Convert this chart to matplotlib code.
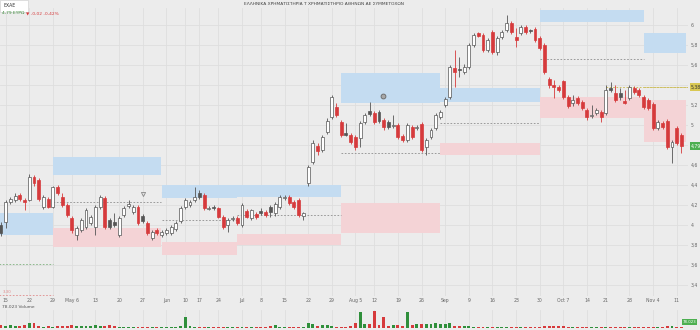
import matplotlib
matplotlib.use("Agg")
import matplotlib.pyplot as plt
import numpy as np

# Ημερήσια κεριά (OHLC), ΕΧΑΕ
opens = [4.00, 4.03, 4.23, 4.25, 4.30, 4.25, 4.25, 4.48, 4.45, 4.18, 4.26, 4.18, 4.38, 4.28, 4.20,
         4.07, 3.90, 3.95, 3.98, 4.02, 3.98, 4.18, 4.27, 4.05, 4.03, 3.90, 4.10, 4.19, 4.13, 4.18,
         4.09, 4.02, 3.87, 3.95, 3.90, 3.92, 3.92, 3.96, 4.04, 4.18, 4.20, 4.25, 4.32, 4.30, 4.16,
         4.18, 4.17, 4.08, 4.00, 4.06, 4.07, 4.00, 4.14, 4.07, 4.11, 4.14, 4.13, 4.18, 4.12, 4.18,
         4.27, 4.28, 4.23, 4.25, 4.09, 4.42, 4.63, 4.79, 4.75, 4.93, 5.08, 5.18, 5.03, 4.92, 4.90,
         4.88, 4.87, 5.03, 5.14, 5.12, 5.13, 5.05, 5.03, 4.99, 5.00, 4.89, 4.85, 4.98, 4.97, 5.01,
         4.78, 4.88, 4.97, 5.08, 5.20, 5.28, 5.57, 5.56, 5.53, 5.58, 5.80, 5.92, 5.90, 5.75, 5.93,
         5.73, 5.88, 5.95, 6.02, 5.88, 5.92, 5.98, 5.95, 5.96, 5.87, 5.80, 5.46, 5.40, 5.38, 5.44,
         5.28, 5.22, 5.27, 5.23, 5.15, 5.09, 5.12, 5.13, 5.12, 5.37, 5.32, 5.32, 5.24, 5.27, 5.37,
         5.35, 5.28, 5.25, 5.21, 4.97, 5.02, 5.04, 4.78, 4.97, 4.90]
highs = [4.03, 4.25, 4.28, 4.32, 4.32, 4.27, 4.51, 4.50, 4.47, 4.30, 4.28, 4.39, 4.40, 4.32, 4.22,
         4.09, 3.99, 4.07, 4.17, 4.10, 4.20, 4.30, 4.29, 4.07, 4.12, 4.09, 4.19, 4.25, 4.20, 4.20,
         4.11, 4.04, 3.95, 3.97, 3.95, 3.97, 4.00, 4.04, 4.19, 4.27, 4.25, 4.38, 4.35, 4.32, 4.19,
         4.20, 4.18, 4.10, 4.07, 4.09, 4.09, 4.22, 4.16, 4.16, 4.13, 4.17, 4.15, 4.20, 4.23, 4.30,
         4.30, 4.30, 4.25, 4.27, 4.13, 4.60, 4.85, 4.82, 4.90, 5.07, 5.30, 5.22, 5.05, 5.02, 4.92,
         4.90, 5.04, 5.12, 5.23, 5.14, 5.15, 5.07, 5.05, 5.10, 5.02, 4.91, 5.02, 5.00, 5.00, 5.03,
         4.87, 4.97, 5.12, 5.15, 5.28, 5.60, 5.75, 5.68, 5.61, 5.82, 5.92, 5.93, 5.92, 5.87, 5.95,
         5.89, 5.95, 6.10, 6.04, 5.97, 6.00, 6.00, 5.96, 5.98, 5.89, 5.82, 5.48, 5.45, 5.40, 5.45,
         5.30, 5.30, 5.29, 5.25, 5.17, 5.20, 5.17, 5.15, 5.40, 5.43, 5.40, 5.37, 5.35, 5.40, 5.39,
         5.37, 5.30, 5.27, 5.23, 5.05, 5.04, 5.06, 4.85, 4.99, 4.92]
lows = [3.89, 3.97, 4.21, 4.23, 4.24, 4.15, 4.24, 4.39, 4.24, 4.16, 4.17, 4.17, 4.30, 4.18, 4.08,
        3.92, 3.85, 3.93, 3.96, 4.00, 3.90, 4.16, 3.96, 3.96, 3.98, 3.88, 4.08, 4.17, 4.11, 4.00,
        4.02, 3.90, 3.85, 3.90, 3.88, 3.90, 3.90, 3.94, 4.02, 4.16, 4.18, 4.23, 4.26, 4.15, 4.15,
        4.15, 4.07, 3.96, 3.93, 4.04, 4.00, 3.98, 4.07, 4.05, 4.06, 4.10, 4.08, 4.08, 4.09, 4.16,
        4.25, 4.20, 4.16, 4.08, 4.05, 4.39, 4.61, 4.70, 4.73, 4.91, 5.06, 5.08, 4.88, 4.89, 4.81,
        4.75, 4.78, 5.01, 5.09, 5.01, 5.02, 4.95, 4.96, 4.97, 4.86, 4.83, 4.83, 4.86, 4.95, 4.73,
        4.70, 4.86, 4.95, 5.06, 5.18, 5.26, 5.38, 5.48, 5.51, 5.56, 5.78, 5.88, 5.73, 5.73, 5.71,
        5.70, 5.86, 5.93, 5.91, 5.78, 5.90, 5.91, 5.92, 5.83, 5.75, 5.51, 5.37, 5.27, 5.33, 5.26,
        5.17, 5.19, 5.20, 5.15, 5.05, 5.07, 5.10, 5.03, 5.10, 5.33, 5.23, 5.25, 5.21, 5.25, 5.31,
        5.28, 5.16, 5.15, 4.95, 4.95, 4.96, 4.76, 4.62, 4.80, 4.72]
closes = [3.92, 4.23, 4.26, 4.29, 4.26, 4.23, 4.48, 4.42, 4.26, 4.28, 4.18, 4.38, 4.32, 4.20, 4.10,
          3.95, 3.97, 4.05, 4.15, 4.08, 4.18, 4.28, 3.98, 3.98, 4.00, 4.07, 4.17, 4.21, 4.18, 4.02,
          4.04, 3.92, 3.93, 3.92, 3.93, 3.95, 3.98, 4.02, 4.17, 4.25, 4.23, 4.28, 4.28, 4.17, 4.17,
          4.17, 4.08, 3.98, 4.05, 4.07, 4.02, 4.20, 4.08, 4.15, 4.08, 4.12, 4.10, 4.13, 4.21, 4.28,
          4.28, 4.22, 4.18, 4.10, 4.12, 4.58, 4.82, 4.74, 4.88, 5.04, 5.28, 5.10, 4.90, 4.90, 4.83,
          4.78, 5.02, 5.10, 5.11, 5.03, 5.04, 4.98, 4.98, 5.00, 4.88, 4.85, 5.00, 4.88, 4.98, 4.75,
          4.85, 4.95, 5.10, 5.13, 5.26, 5.58, 5.53, 5.55, 5.58, 5.80, 5.90, 5.89, 5.75, 5.85, 5.73,
          5.87, 5.93, 6.02, 5.93, 5.85, 5.98, 5.93, 5.94, 5.85, 5.77, 5.53, 5.40, 5.38, 5.35, 5.28,
          5.19, 5.25, 5.22, 5.17, 5.08, 5.10, 5.15, 5.08, 5.35, 5.35, 5.25, 5.28, 5.22, 5.38, 5.33,
          5.30, 5.18, 5.17, 4.97, 5.03, 4.98, 4.78, 4.83, 4.82, 4.79]
volumes = [30, 20, 30, 20, 20, 30, 50, 55, 20, 15, 20, 15, 20, 25, 20,
           30, 25, 20, 25, 20, 30, 20, 25, 30, 20, 15, 10, 10, 10, 10,
           10, 10, 10, 10, 10, 10, 10, 10, 20, 120, 25, 10, 10, 10, 10,
           10, 10, 10, 10, 10, 10, 10, 10, 10, 10, 10, 10, 25, 30, 10,
           10, 10, 10, 10, 10, 60, 40, 20, 30, 30, 20, 15, 15, 15, 20,
           50, 180, 40, 40, 190, 30, 120, 20, 30, 30, 20, 180, 30, 40, 40,
           40, 40, 50, 40, 40, 50, 20, 20, 20, 20, 10, 10, 10, 10, 10,
           10, 10, 10, 10, 10, 10, 10, 10, 10, 10, 20, 25, 25, 20, 20,
           15, 10, 15, 10, 15, 10, 10, 10, 15, 10, 10, 10, 10, 10, 10,
           10, 10, 15, 15, 10, 15, 20, 20, 15, 15]

# Εβδομαδιαίες ετικέτες άξονα x (θέση = αριθμός συνεδρίασης)
tick_idx = [1, 6, 11, 15, 20, 25, 30, 35, 39, 42, 46, 51, 55, 60, 65, 70, 75, 79, 84, 89,
            94, 99, 104, 109, 114, 119, 124, 128, 133, 138, 143]
tick_lbl = ["15", "22", "29", "May 6", "13", "20", "27", "Jun", "10", "17", "24", "Jul", "8",
            "15", "22", "29", "Aug 5", "12", "19", "26", "Sep", "9", "16", "23", "30", "Oct 7",
            "14", "21", "28", "Nov 4", "11"]

# Μηνιαίες ζώνες: όρια, μπλε ζώνη (πάνω), κόκκινη ζώνη (κάτω), μέση γραμμή
zone_start = [-0.5, 11, 34, 50, 72, 93, 114, 136]
zone_end = [11, 33.8, 50, 72, 93, 114, 136, 145.0]
blue_lo = [3.90, 4.50, 4.27, 4.28, 5.22, 5.23, 6.03, 5.72]
blue_hi = [4.12, 4.68, 4.40, 4.40, 5.52, 5.37, 6.15, 5.92]
red_lo = [np.nan, 3.78, 3.70, 3.80, 3.92, 4.70, 5.07, 4.83]
red_hi = [np.nan, 3.97, 3.83, 3.91, 4.22, 4.82, 5.28, 5.25]
mid_line = [3.61, 4.23, 4.05, 4.10, 4.72, 5.02, 5.66, 5.38]

last_price = 4.79
pivot_price = 5.38

bg = "#ececec"
grid_c = "#dedede"
red_c = "#d63a3c"
dark_c = "#555555"
green_c = "#2f8f3b"

fig = plt.figure(figsize=(7, 3.3), dpi=100, facecolor=bg)
ax = fig.add_axes([0, 0.103, 0.983, 0.873], facecolor=bg)
axv = fig.add_axes([0, 0.006, 0.983, 0.055], facecolor=bg, sharex=ax)

x = np.arange(len(closes))
o = np.array(opens)
c = np.array(closes)
prev = np.concatenate([[c[0]], c[:-1]])

# Ζώνες
for i in range(len(zone_start)):
    xs = [zone_start[i], zone_end[i]]
    ax.fill_between(xs, blue_lo[i], blue_hi[i], color="#c4dcf1", lw=0, zorder=1)
    if not np.isnan(red_lo[i]):
        ax.fill_between(xs, red_lo[i], red_hi[i], color="#f4d3d6", lw=0, zorder=1)
    col = "#8d8d8d"
    if i == 0:
        col = "#7fb27f"
    if i == len(zone_start) - 1:
        col = "#c9b84a"
    ax.hlines(mid_line[i], zone_start[i], zone_end[i], colors=col, lw=0.6,
              linestyles=(0, (2, 2)), zorder=1.5)
ax.hlines(3.30, zone_start[0], zone_end[0], colors="#e08a8a", lw=0.6,
          linestyles=(0, (2, 2)), zorder=1.5)
ax.text(0.3, 3.315, "3,30", fontsize=2.8, color="#e08a8a", va="bottom")
ax.hlines(pivot_price, 128, 146, colors="#c9b84a", lw=0.6, linestyles=(0, (2, 2)), zorder=1.5)

# Κεριά
up = c >= o
down_red = (~up) & (c < prev)
fills = np.where(up, "white", np.where(down_red, red_c, dark_c))
edges = np.where(up, "#555555", np.where(down_red, red_c, dark_c))
ax.vlines(x, lows, highs, colors=edges, lw=0.6, zorder=2)
heights = np.maximum(np.abs(c - o), 0.006)
ax.bar(x, heights, bottom=np.minimum(o, c), width=0.62, color=fills,
       edgecolor=edges, linewidth=0.5, zorder=3)

ax.plot(30, 4.31, marker="v", ms=3, mfc="none", mec="#888888", mew=0.6)
ax.plot(80.8, 5.29, marker="o", ms=3.5, mfc="#a8a8a8", mec="#666666", mew=0.6)

ax.set_xlim(-0.2, 145.4)
ax.set_ylim(3.29, 6.17)
yt = np.round(np.arange(3.4, 6.01, 0.2), 1)
ax.set_yticks(yt)
# οι ετικέτες 5,4 και 4,8 καλύπτονται από τα κουτιά τιμών
ax.set_yticklabels(["" if v in (5.4, 4.8) else ("%g" % v).replace(".", ",") for v in yt])
ax.yaxis.tick_right()
ax.tick_params(axis="y", length=0, pad=2, labelsize=3.3, labelcolor="#666666")
ax.set_xticks(tick_idx)
ax.set_xticklabels(tick_lbl)
ax.tick_params(axis="x", length=0, pad=1.5, labelsize=3.3, labelcolor="#666666")
ax.grid(True, color=grid_c, lw=0.6)
ax.set_axisbelow(True)
for s in ax.spines.values():
    s.set_visible(False)

tr = ax.get_yaxis_transform()
ax.text(1.004, pivot_price, "5,38", transform=tr, fontsize=3.3, va="center", ha="left",
        color="#333333", bbox=dict(boxstyle="square,pad=0.25", fc="#d9c852", ec="none"), zorder=5)
ax.text(1.004, last_price, "4,79", transform=tr, fontsize=3.3, va="center", ha="left",
        color="white", bbox=dict(boxstyle="square,pad=0.25", fc="#4caf50", ec="none"), zorder=5)

# Όγκος
vcol = np.where(up, green_c, red_c)
axv.bar(x, volumes, width=0.62, color=vcol, lw=0)
axv.set_ylim(0, 200)
axv.set_yticks([])
axv.tick_params(axis="x", length=0, labelbottom=False)
axv.set_xticks(tick_idx)
axv.grid(True, axis="x", color=grid_c, lw=0.6)
axv.set_axisbelow(True)
for s in axv.spines.values():
    s.set_visible(False)
fig.text(0.995, 0.025, "78.023", fontsize=2.8, va="center", ha="right",
         color="white", bbox=dict(boxstyle="square,pad=0.2", fc="#4caf50", ec="none"))
fig.text(0.003, 0.07, "78.023 Volume", fontsize=3.2, color="#555555", va="center")

# Κεφαλίδα
fig.patches.append(plt.Rectangle((0, 0.965), 0.04, 0.035, transform=fig.transFigure,
                                 fc="white", ec="#cccccc", lw=0.4))
fig.text(0.005, 0.982, "EXAE", fontsize=3.3, color="#333333", va="center")
fig.text(0.463, 0.988, "ΕΛΛΗΝΙΚΑ ΧΡΗΜΑΤΙΣΤΗΡΙΑ Τ ΧΡΗΜΑΤΙΣΤΗΡΙΟ ΑΘΗΝΩΝ ΑΕ ΣΥΜΜΕΤΟΧΩΝ",
         fontsize=3.2, color="#444444", ha="center", va="center")
fig.text(0.003, 0.96, "4,79 ΕΥΡΩ", fontsize=3.2, color="#3a8a3a", va="center")
fig.text(0.037, 0.96, "▼ -0,02 -0,42%", fontsize=3.2, color="#d63a3c", va="center")

fig.savefig("out.png", dpi=100, facecolor=bg)
